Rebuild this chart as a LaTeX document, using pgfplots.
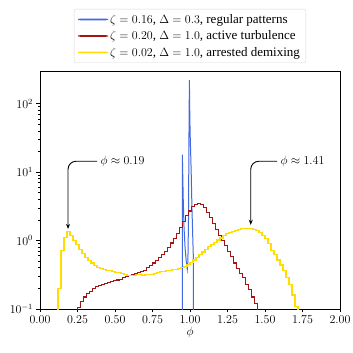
\documentclass[border=0pt]{standalone}
\usepackage{fontspec}
\setmainfont{Liberation Serif}
\usepackage{pgfplots}
\pgfplotsset{compat=1.18}
\usetikzlibrary{arrows.meta}
\definecolor{cblue}{RGB}{65,105,225}
\definecolor{cred}{RGB}{165,20,20}
\definecolor{cyel}{RGB}{255,221,0}
\begin{document}
\begin{tikzpicture}
\begin{axis}[
  scale only axis, width=300pt, height=238pt,
  xmin=0, xmax=2, ymode=log, ymin=0.1, ymax=300,
  xtick={0,0.25,0.5,0.75,1,1.25,1.5,1.75,2},
  xticklabel style={/pgf/number format/.cd,fixed,fixed zerofill,precision=2},
  ytick={0.1,1,10,100},
  tick align=outside, xtick pos=left, ytick pos=left,
  major tick length=3.5pt, minor tick length=2pt,
  tick style={black, line width=0.6pt},
  axis line style={line width=0.7pt},
  font=\fontsize{11.5}{13}\selectfont,
  xlabel={$\phi$},
  xlabel style={yshift=3pt},
  clip=true,
  legend style={at={(0.5,1.034)}, anchor=south, draw=black!15, rounded corners=2pt,
    font=\fontsize{13}{15}\selectfont, row sep=0pt, inner xsep=4pt, inner ysep=2pt,
    nodes={inner ysep=3pt}},
  legend cell align=left,
  legend image code/.code={\fill[#1, draw=none] (-3pt,-0.85pt) rectangle (27pt,0.85pt);},
]
\addplot[cblue, line width=1pt, sharp plot] coordinates {
(0.949,0.01) (0.949,18) (0.955,4) (0.960,1.6) (0.967,0.8) (0.975,0.5) (0.982,0.38)
(0.986,0.5) (0.990,2) (0.993,30) (0.996,220) (0.999,60) (1.002,30) (1.008,10)
(1.013,3) (1.018,1.2) (1.022,0.6) (1.022,0.01)
};
\addlegendentry{$\zeta=0.16$, $\Delta=0.3$, regular patterns}
\addplot[cred, line width=1.1pt, const plot] coordinates {
(0.25,0.01) (0.25,0.105) (0.27,0.13) (0.29,0.15) (0.31,0.168) (0.33,0.18) (0.35,0.2)
(0.37,0.21) (0.39,0.222) (0.41,0.228) (0.43,0.236) (0.45,0.242) (0.47,0.25)
(0.49,0.258) (0.51,0.265) (0.53,0.27) (0.55,0.285) (0.57,0.295) (0.59,0.305)
(0.61,0.315) (0.63,0.325) (0.65,0.34) (0.67,0.355) (0.69,0.37) (0.71,0.4)
(0.73,0.43) (0.75,0.47) (0.77,0.51) (0.79,0.56) (0.81,0.62) (0.83,0.69)
(0.85,0.79) (0.87,0.92) (0.89,1.06) (0.91,1.25) (0.93,1.55) (0.95,1.9)
(0.97,2.3) (0.99,2.7) (1.01,3.1) (1.03,3.4) (1.05,3.5) (1.07,3.35) (1.09,3.05)
(1.11,2.6) (1.13,2.2) (1.15,1.8) (1.17,1.45) (1.19,1.2) (1.21,1.0) (1.23,0.85)
(1.25,0.7) (1.27,0.58) (1.29,0.47) (1.31,0.39) (1.33,0.33) (1.35,0.29)
(1.37,0.23) (1.39,0.19) (1.41,0.15) (1.43,0.12) (1.45,0.01)
};
\addlegendentry{$\zeta=0.20$, $\Delta=1.0$, active turbulence}
\addplot[cyel, line width=1.1pt, const plot] coordinates {
(0.12,0.01) (0.12,0.2) (0.14,0.72) (0.16,1.12) (0.18,1.35) (0.20,1.2) (0.22,1.0)
(0.24,0.87) (0.26,0.74) (0.28,0.64) (0.30,0.57) (0.32,0.51) (0.34,0.47)
(0.36,0.43) (0.38,0.41) (0.40,0.39) (0.42,0.38) (0.44,0.37) (0.46,0.36)
(0.48,0.355) (0.50,0.345) (0.52,0.34) (0.54,0.33) (0.56,0.32) (0.58,0.31)
(0.60,0.305) (0.62,0.31) (0.64,0.315) (0.66,0.318) (0.68,0.31) (0.70,0.318)
(0.72,0.32) (0.74,0.318) (0.76,0.33) (0.78,0.34) (0.80,0.348) (0.82,0.35)
(0.84,0.36) (0.86,0.367) (0.88,0.375) (0.90,0.38) (0.92,0.389) (0.94,0.4)
(0.96,0.42) (0.98,0.445) (1.00,0.48) (1.02,0.52) (1.04,0.57) (1.06,0.63)
(1.08,0.68) (1.10,0.74) (1.12,0.81) (1.14,0.88) (1.16,0.95) (1.18,1.02)
(1.20,1.09) (1.22,1.17) (1.24,1.25) (1.26,1.31) (1.28,1.37) (1.30,1.42)
(1.32,1.45) (1.34,1.48) (1.36,1.5) (1.38,1.51) (1.40,1.5) (1.42,1.47)
(1.44,1.42) (1.46,1.32) (1.48,1.2) (1.50,1.06) (1.52,0.9) (1.54,0.72)
(1.56,0.62) (1.58,0.52) (1.60,0.44) (1.62,0.37) (1.64,0.29) (1.66,0.23)
(1.68,0.16) (1.70,0.11) (1.72,0.01)
};
\addlegendentry{$\zeta=0.02$, $\Delta=1.0$, arrested demixing}
\node[font=\fontsize{12}{14}\selectfont] (a1) at (axis cs:0.55,14.4) {$\phi\approx0.19$};
\draw[-{Stealth[length=5pt,width=4pt]}, rounded corners=8pt, line width=0.9pt] (a1.west) -| (axis cs:0.187,1.48);
\node[font=\fontsize{12}{14}\selectfont] (a2) at (axis cs:1.75,14.4) {$\phi\approx1.41$};
\draw[-{Stealth[length=5pt,width=4pt]}, rounded corners=8pt, line width=0.9pt] (a2.west) -| (axis cs:1.405,1.7);
\end{axis}
\pgfresetboundingbox
\path ([shift={(-40pt,-44pt)}]current axis.south west) rectangle ([shift={(13pt,71pt)}]current axis.north east);
\end{tikzpicture}
\end{document}
